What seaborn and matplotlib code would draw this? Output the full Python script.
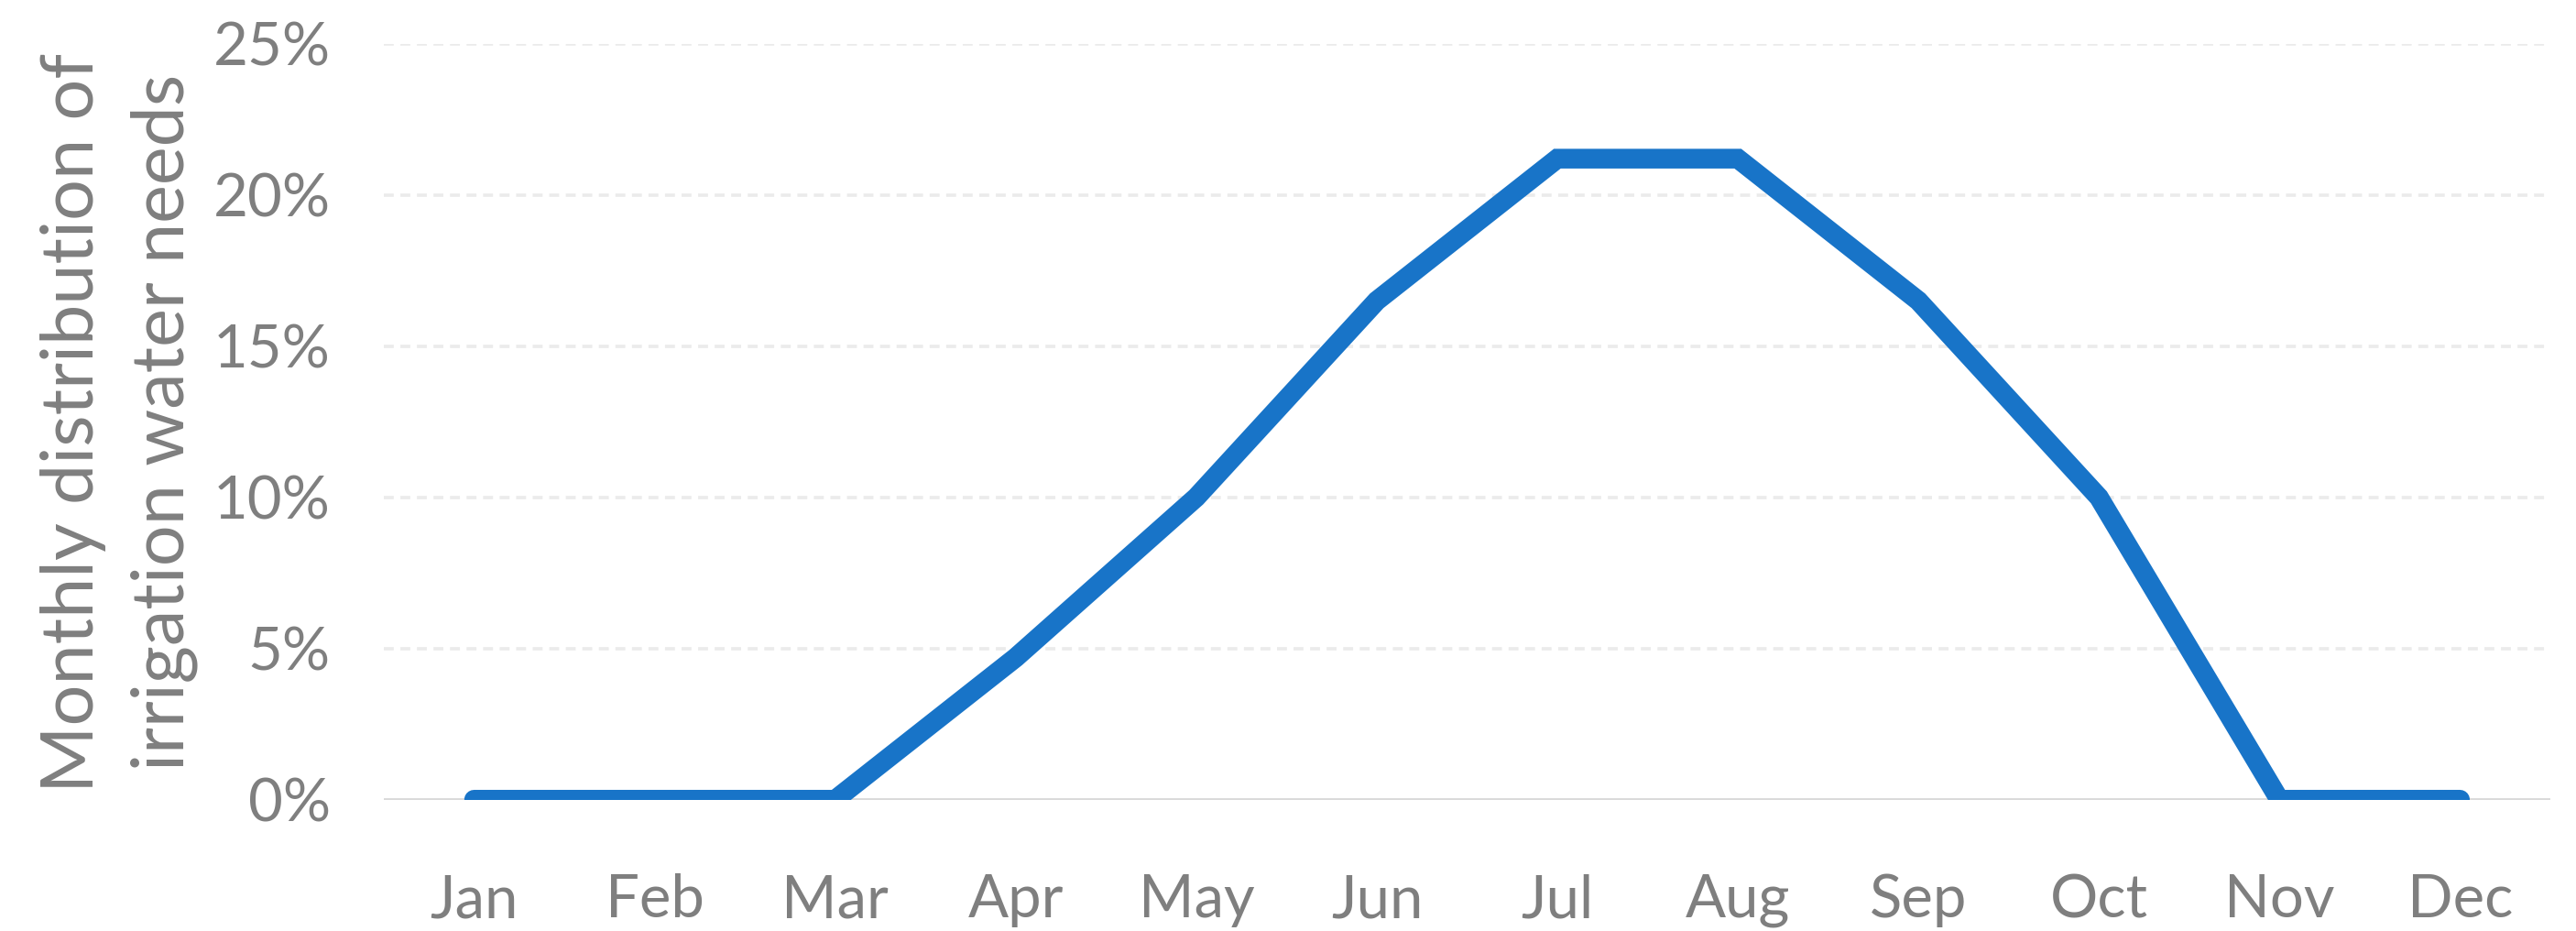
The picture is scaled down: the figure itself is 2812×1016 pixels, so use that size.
import numpy as np
import pandas as pd
import matplotlib
matplotlib.use("Agg")
import matplotlib.pyplot as plt
import seaborn as sns
from matplotlib.ticker import PercentFormatter

months = ["Jan", "Feb", "Mar", "Apr", "May", "Jun",
          "Jul", "Aug", "Sep", "Oct", "Nov", "Dec"]
share = [0.0, 0.0, 0.0, 4.7, 10.0, 16.5, 21.2, 21.2, 16.5, 10.0, 0.0, 0.0]
y_ticks = [0, 5, 10, 15, 20, 25]

df = pd.DataFrame({"month": months, "share": share})
df["pos"] = np.arange(len(months))

sns.set_style("white")
plt.rcParams["font.family"] = ["Lato", "DejaVu Sans"]

fig = plt.figure(figsize=(28.12, 10.16), dpi=100)
ax = fig.add_axes([0.149, 0.141, 0.841, 0.812])

# gridlines like excel: light dashed, solid zero line
for t in y_ticks[1:]:
    ax.axhline(t, color="#ebebeb", lw=2.6, ls=(0, (3, 2)), zorder=0)
ax.axhline(0, color="#d9d9d9", lw=3.5, zorder=1)

sns.lineplot(data=df, x="pos", y="share", ax=ax, color="#1874c8",
             lw=15.5, solid_capstyle="round", solid_joinstyle="miter", zorder=3)

ax.set_xlim(-0.5, 11.5)
ax.set_ylim(0, 25)
ax.set_xticks(df["pos"])
ax.set_xticklabels(months)
ax.set_yticks(y_ticks)
ax.yaxis.set_major_formatter(PercentFormatter(decimals=0))
ax.tick_params(axis="both", length=0, labelsize=47, labelcolor="#7f7f7f")
ax.tick_params(axis="x", pad=58)
ax.tick_params(axis="y", pad=42)
ax.set_xlabel("")
ax.set_ylabel("")
fig.text(130 / 2812, 0.546, "Monthly distribution of\nirrigation water needs",
         rotation=90, ha="center", va="center", multialignment="center",
         fontsize=57, color="#7f7f7f", linespacing=1.45)
sns.despine(ax=ax, left=True, bottom=True)

fig.savefig("out.png", dpi=100)
